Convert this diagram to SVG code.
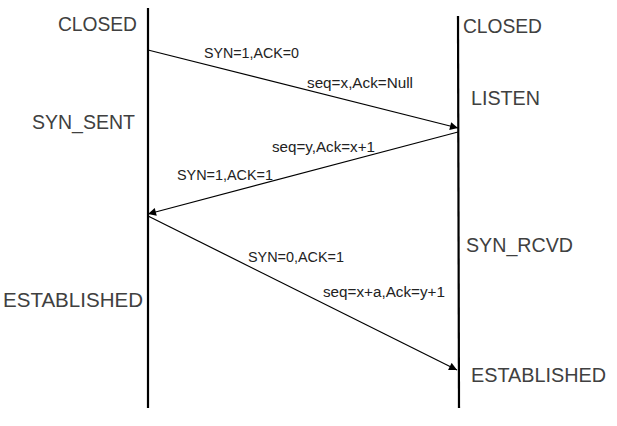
<svg xmlns="http://www.w3.org/2000/svg" width="617" height="426" viewBox="0 0 617 426">
<style>
.st{font-family:"Liberation Sans",Arial,sans-serif;font-size:20px;fill:#404040}
.lb{font-family:"Liberation Sans",Arial,sans-serif;font-size:14px;fill:#222}
.life{stroke:#000;stroke-width:2.2;fill:none}
.msg{stroke:#000;stroke-width:1.2;fill:none;marker-end:url(#ah)}
</style>
<defs>
<marker id="ah" viewBox="0 0 10 10" refX="10" refY="5" markerWidth="10" markerHeight="8" markerUnits="userSpaceOnUse" orient="auto">
<path d="M0,0 L10,5 L0,10 z" fill="#000"/>
</marker>
</defs>
<rect width="617" height="426" fill="#fff"/>
<g id="client">
<line class="life" x1="148" y1="8" x2="148" y2="408"/>
<text class="st" x="58" y="31" textLength="79" lengthAdjust="spacingAndGlyphs">CLOSED</text>
<text class="st" x="32" y="129" textLength="103" lengthAdjust="spacingAndGlyphs">SYN_SENT</text>
<text class="st" x="3" y="307" textLength="140" lengthAdjust="spacingAndGlyphs">ESTABLISHED</text>
</g>
<g id="server">
<line class="life" x1="458" y1="16" x2="459" y2="408"/>
<text class="st" x="463" y="33" textLength="79" lengthAdjust="spacingAndGlyphs">CLOSED</text>
<text class="st" x="471" y="105" textLength="69" lengthAdjust="spacingAndGlyphs">LISTEN</text>
<text class="st" x="466" y="252" textLength="107" lengthAdjust="spacingAndGlyphs">SYN_RCVD</text>
<text class="st" x="471" y="382" textLength="135" lengthAdjust="spacingAndGlyphs">ESTABLISHED</text>
</g>
<g id="connectors">
<line class="msg" x1="148" y1="50" x2="458" y2="128"/>
<line class="msg" x1="458" y1="132" x2="148" y2="214"/>
<line class="msg" x1="148" y1="216" x2="457" y2="370"/>
</g>
<g id="labels">
<text class="lb" x="204" y="58" textLength="95" lengthAdjust="spacingAndGlyphs">SYN=1,ACK=0</text>
<text class="lb" x="307" y="88" textLength="106" lengthAdjust="spacingAndGlyphs">seq=x,Ack=Null</text>
<text class="lb" x="272" y="152" textLength="103" lengthAdjust="spacingAndGlyphs">seq=y,Ack=x+1</text>
<text class="lb" x="177" y="180" textLength="96" lengthAdjust="spacingAndGlyphs">SYN=1,ACK=1</text>
<text class="lb" x="248" y="262" textLength="96" lengthAdjust="spacingAndGlyphs">SYN=0,ACK=1</text>
<text class="lb" x="323" y="297" textLength="122" lengthAdjust="spacingAndGlyphs">seq=x+a,Ack=y+1</text>
</g>
</svg>
